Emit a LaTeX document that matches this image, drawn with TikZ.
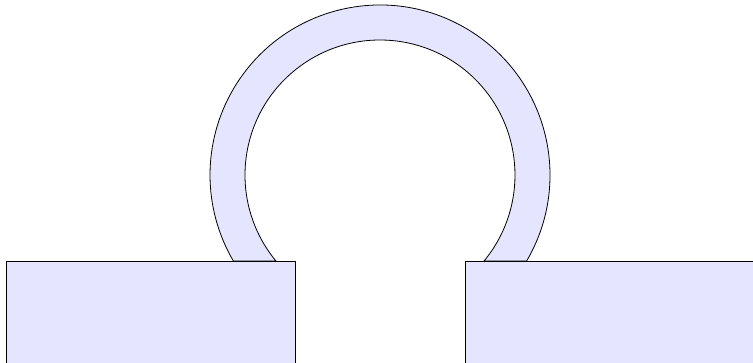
\documentclass[tikz,border=0pt]{standalone}
\begin{document}
\begin{tikzpicture}[x=1pt,y=1pt,
  part/.style={draw=black, fill=blue!10, line width=0.8pt}]
\useasboundingbox (0,0) rectangle (753,363);
\clip (0,0) rectangle (753,363);
\coordinate (c) at (380,188);
% ring
\path[part] ([shift={(-30.4:170)}]c) arc[start angle=-30.4, end angle=210.4, radius=170]
  -- ([shift={(219.6:135)}]c) arc[start angle=219.6, end angle=-39.6, radius=135] -- cycle;
% blocks
\node[part, minimum width=289, minimum height=110, anchor=north west, inner sep=0pt, outer sep=0pt] (left) at (6,102) {};
\node[part, minimum width=300, minimum height=110, anchor=north west, inner sep=0pt, outer sep=0pt] (right) at (465,102) {};
\end{tikzpicture}
\end{document}
